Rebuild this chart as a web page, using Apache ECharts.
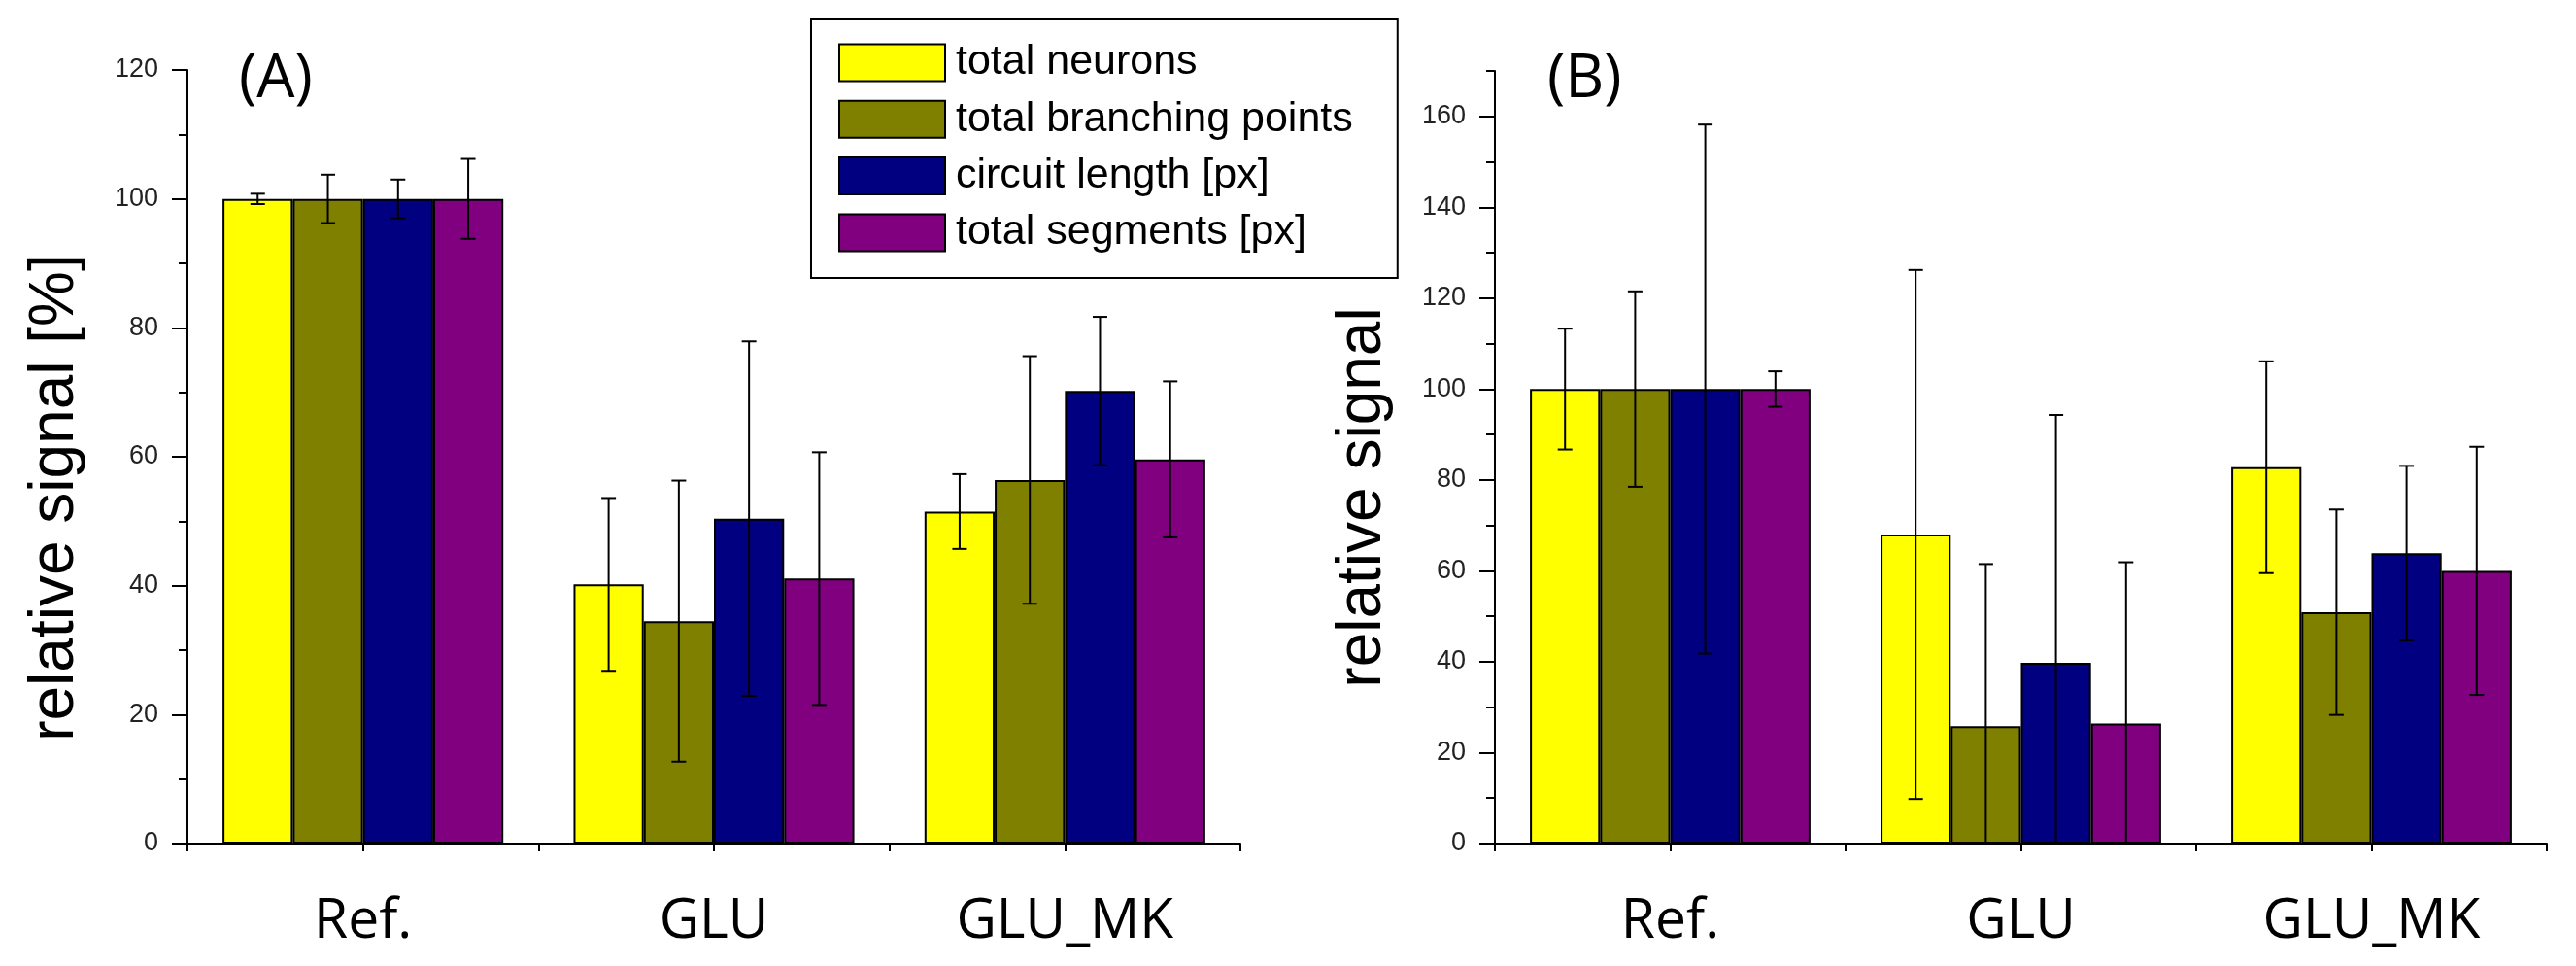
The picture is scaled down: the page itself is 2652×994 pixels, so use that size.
<!DOCTYPE html>
<html><head><meta charset="utf-8">
<script src="https://cdn.jsdelivr.net/npm/echarts@6/dist/echarts.min.js"></script>
<style>html,body{margin:0;padding:0;background:#fff}#c{width:2652px;height:994px}</style>
</head><body><div id="c"></div>
<script>
// ---- data ----
const categories = ['Ref.', 'GLU', 'GLU_MK'];
const seriesNames = ['total neurons', 'total branching points', 'circuit length [px]', 'total segments [px]'];
const colors = ['#FFFF00', '#808000', '#000080', '#800080'];
const yTicksA = [0, 20, 40, 60, 80, 100, 120];
const yTicksB = [0, 20, 40, 60, 80, 100, 120, 140, 160];

// panel (A)
const neuronsA = [100, 40.2, 51.5];
const neuronsErrA = [0.8, 13.4, 5.8];
const branchA = [100, 34.5, 56.4];
const branchErrA = [3.75, 21.8, 19.2];
const circuitA = [100, 50.4, 70.2];
const circuitErrA = [3.0, 27.5, 11.5];
const segmentsA = [100, 41.1, 59.6];
const segmentsErrA = [6.2, 19.6, 12.1];

// panel (B)
const neuronsB = [100, 68.0, 82.8];
const neuronsErrB = [13.3, 58.2, 23.3];
const branchB = [100, 25.8, 50.9];
const branchErrB = [21.5, 35.7, 22.6];
const circuitB = [100, 39.8, 63.9];
const circuitErrB = [58.2, 54.5, 19.2];
const segmentsB = [100, 26.4, 60.0];
const segmentsErrB = [3.9, 35.5, 27.3];

const valsA = [neuronsA, branchA, circuitA, segmentsA];
const errsA = [neuronsErrA, branchErrA, circuitErrA, segmentsErrA];
const valsB = [neuronsB, branchB, circuitB, segmentsB];
const errsB = [neuronsErrB, branchErrB, circuitErrB, segmentsErrB];

// ---- chart ----
const chart = echarts.init(document.getElementById('c'), null, {renderer: 'canvas'});
const BLACK = '#000';
const tickFont = {fontFamily: 'Liberation Sans', fontSize: 27, color: '#222'};
const catFont = {fontFamily: 'Open Sans', fontSize: 57, color: '#000'};

function xAxes(grid) {
  return [
    {type: 'category', gridIndex: grid, data: categories, position: 'bottom',
     axisLine: {show: true, lineStyle: {color: BLACK, width: 2}},
     axisTick: {show: true, alignWithLabel: true, length: 8, lineStyle: {color: BLACK, width: 2}},
     axisLabel: Object.assign({margin: 52}, catFont),
     splitLine: {show: false}},
    {type: 'category', gridIndex: grid, data: categories, position: 'bottom', offset: 0,
     axisLine: {show: false},
     axisTick: {show: true, length: 8, lineStyle: {color: BLACK, width: 2}},
     axisLabel: {show: false}, splitLine: {show: false}}
  ];
}
function yAxes(grid, max, ticks) {
  return [
    {type: 'value', gridIndex: grid, min: 0, max: max, interval: 20, position: 'left',
     axisLine: {show: true, lineStyle: {color: BLACK, width: 2}},
     axisTick: {show: true, length: 16, customValues: ticks, lineStyle: {color: BLACK, width: 2}},
     axisLabel: Object.assign({margin: 30, customValues: ticks}, tickFont),
     splitLine: {show: false}},
    {type: 'value', gridIndex: grid, min: 0, max: max, interval: 10, position: 'left', offset: 0,
     axisLine: {show: false},
     axisTick: {show: true, length: 9, lineStyle: {color: BLACK, width: 2}},
     axisLabel: {show: false}, splitLine: {show: false}}
  ];
}

function barSeries(vals, xi, yi) {
  return vals.map((v, i) => ({
    type: 'bar', name: seriesNames[i], xAxisIndex: xi, yAxisIndex: yi,
    data: v, barGap: '0%', barCategoryGap: '20%',
    itemStyle: {color: colors[i], borderColor: BLACK, borderWidth: 2},
    emphasis: {disabled: true}, z: 2
  }));
}
function errSeries(vals, errs, xi, yi) {
  const data = [];
  for (let s = 0; s < vals.length; s++)
    for (let c = 0; c < categories.length; c++)
      data.push([c, s, vals[s][c], errs[s][c]]);
  return {
    type: 'custom', name: 'err', xAxisIndex: xi, yAxisIndex: yi, z: 5,
    encode: {x: 0, y: 2}, data: data, silent: true,
    renderItem: function (params, api) {
      const c = api.value(0), s = api.value(1), v = api.value(2), e = api.value(3);
      const center = api.coord([c, v]);
      const band = api.size([1, 0])[0];
      const bw = band * 0.8 / 4;
      const x = center[0] + (s - 1.5) * bw;
      const yTop = api.coord([c, v + e])[1];
      const lowRaw = v - e;
      const yBot = api.coord([c, Math.max(0, lowRaw)])[1];
      const hw = 7.5;
      const st = {stroke: BLACK, lineWidth: 2};
      const children = [
        {type: 'line', shape: {x1: x, y1: yTop, x2: x, y2: yBot}, style: st},
        {type: 'line', shape: {x1: x - hw, y1: yTop, x2: x + hw, y2: yTop}, style: st}
      ];
      if (lowRaw >= 0) children.push({type: 'line', shape: {x1: x - hw, y1: yBot, x2: x + hw, y2: yBot}, style: st});
      return {type: 'group', children: children};
    }
  };
}

const option = {
  animation: false,
  backgroundColor: '#fff',
  grid: [
    {left: 193, top: 72, width: 1084, height: 796, outerBoundsMode: 'none'},
    {left: 1539, top: 73, width: 1083, height: 795, outerBoundsMode: 'none'}
  ],
  xAxis: xAxes(0).concat(xAxes(1)),
  yAxis: yAxes(0, 120, yTicksA).concat(yAxes(1, 170, yTicksB)),
  legend: {
    data: seriesNames, orient: 'vertical', left: 835, top: 20,
    itemWidth: 109, itemHeight: 38, itemGap: 15.3,
    padding: [23, 46, 25, 28], borderColor: BLACK, borderWidth: 2,
    icon: 'rect', selectedMode: false,
    itemStyle: {borderColor: BLACK, borderWidth: 2},
    textStyle: {fontFamily: 'Liberation Sans', fontSize: 43, lineHeight: 38, color: '#000', padding: [0, 0, 0, 6]}
  },
  graphic: [
    {type: 'text', x: 57, y: 512, rotation: Math.PI / 2,
     style: {text: 'relative signal [%]', fontFamily: 'Liberation Sans', fontSize: 64, fill: '#000', align: 'center', verticalAlign: 'middle'}},
    {type: 'text', x: 1403, y: 512, rotation: Math.PI / 2,
     style: {text: 'relative signal', fontFamily: 'Liberation Sans', fontSize: 64, fill: '#000', align: 'center', verticalAlign: 'middle'}},
    {type: 'text', x: 246, y: 82,
     style: {text: '(A)', fontFamily: 'Open Sans', fontSize: 62, fill: '#000', align: 'left', verticalAlign: 'middle'}},
    {type: 'text', x: 1593, y: 82,
     style: {text: '(B)', fontFamily: 'Open Sans', fontSize: 62, fill: '#000', align: 'left', verticalAlign: 'middle'}}
  ],
  series: barSeries(valsA, 0, 0)
    .concat([errSeries(valsA, errsA, 0, 0)])
    .concat(barSeries(valsB, 2, 2))
    .concat([errSeries(valsB, errsB, 2, 2)])
};
chart.setOption(option);
</script>
</body></html>
